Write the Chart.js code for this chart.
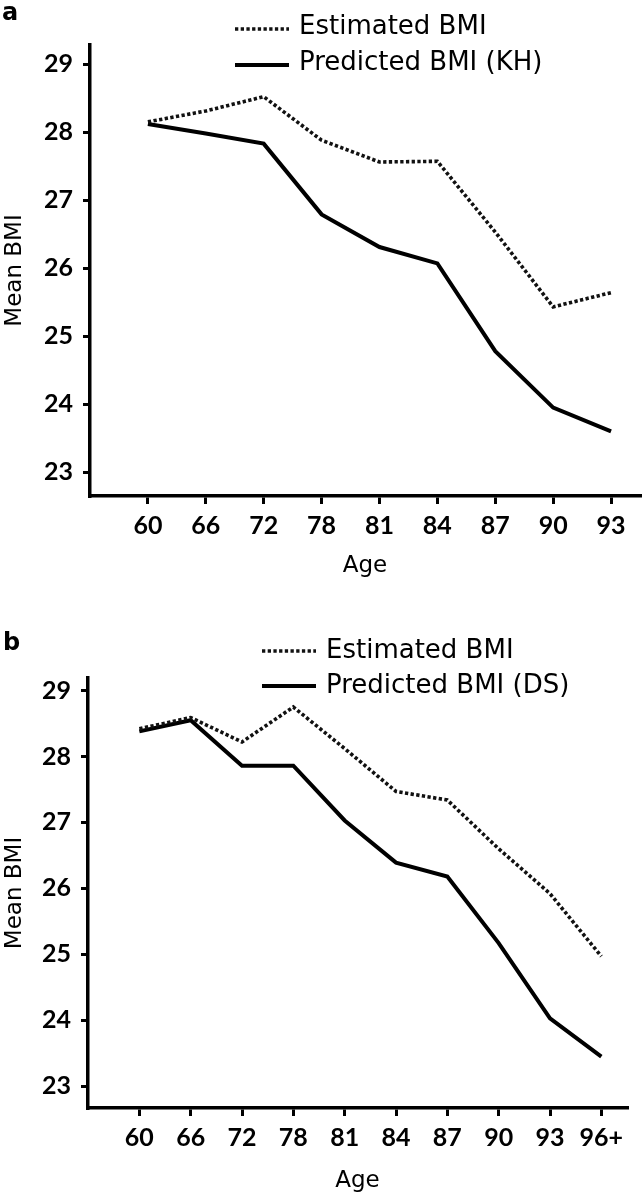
<!DOCTYPE html>
<html>
<head>
<meta charset="utf-8">
<script src="https://cdn.jsdelivr.net/npm/chart.js@4.4.1/dist/chart.umd.min.js"></script>
<style>
  body { margin: 0; background: #fff; }
  .panel { position: absolute; left: 0; width: 643px; height: 600px; }
</style>
</head>
<body>
<div class="panel" style="top:0"><canvas id="chartA" width="643" height="600"></canvas></div>
<div class="panel" style="top:600px"><canvas id="chartB" width="643" height="600"></canvas></div>
<script>
// panel a
const agesA = ['60', '66', '72', '78', '81', '84', '87', '90', '93'];
const estimatedA = [28.15, 28.31, 28.52, 27.88, 27.56, 27.57, 26.53, 25.43, 25.64];
const predictedA = [28.12, 27.98, 27.83, 26.79, 26.31, 26.07, 24.78, 23.95, 23.60];

// panel b
const agesB = ['60', '66', '72', '78', '81', '84', '87', '90', '93', '96+'];
const estimatedB = [28.42, 28.59, 28.22, 28.75, 28.12, 27.47, 27.34, 26.60, 25.92, 24.97];
const predictedB = [28.38, 28.55, 27.86, 27.86, 27.03, 26.39, 26.18, 25.17, 24.03, 23.45];

const bmiTicks = [23, 24, 25, 26, 27, 28, 29];

const FONT = "'DejaVu Sans', sans-serif";
const TICK_FONT = "Lato, 'DejaVu Sans', sans-serif";

// panel letter + stacked legend rows (line sample then label)
const panelDecor = {
  id: 'panelDecor',
  afterDraw(chart, args, opts) {
    const ctx = chart.ctx;
    ctx.save();
    ctx.fillStyle = '#000';
    ctx.font = 'bold 24px ' + FONT;
    ctx.textBaseline = 'alphabetic';
    ctx.fillText(opts.letter, opts.letterX, opts.letterY);

    ctx.font = '26px ' + FONT;
    ctx.textBaseline = 'middle';
    chart.data.datasets.forEach((ds, i) => {
      const y = opts.rows[i];
      ctx.beginPath();
      ctx.lineWidth = ds.borderWidth;
      ctx.strokeStyle = ds.borderColor;
      ctx.setLineDash(ds.borderDash || []);
      ctx.moveTo(opts.lineFrom, y);
      ctx.lineTo(opts.lineTo, y);
      ctx.stroke();
      ctx.fillText(ds.label, opts.textX, y + opts.textShift);
    });
    ctx.restore();
  }
};

function makeChart(id, ages, est, pred, predLabel, box, decor) {
  const idx = ages.map((a, i) => i);
  return new Chart(document.getElementById(id), {
    type: 'line',
    data: {
      datasets: [
        {
          label: 'Estimated BMI',
          data: est.map((v, i) => ({ x: i, y: v })),
          borderColor: '#111',
          borderWidth: 3.6,
          borderDash: [3.3, 2.4]
        },
        {
          label: predLabel,
          data: pred.map((v, i) => ({ x: i, y: v })),
          borderColor: '#000',
          borderWidth: 4
        }
      ]
    },
    options: {
      responsive: false,
      animation: false,
      devicePixelRatio: 1,
      elements: {
        point: { radius: 0 },
        line: { tension: 0, fill: false }
      },
      layout: { padding: { top: box.top, right: 643 - box.right, left: 0, bottom: 0 } },
      plugins: {
        legend: { display: false },
        tooltip: { enabled: false },
        panelDecor: decor
      },
      scales: {
        x: {
          type: 'linear',
          min: -1,
          max: box.xMax,
          afterBuildTicks: s => { s.ticks = idx.map(v => ({ value: v })); },
          afterFit: s => { s.height = 600 - box.bottom; },
          ticks: {
            callback: v => ages[v],
            font: { family: TICK_FONT, size: 25, weight: 'bold' },
            color: '#000',
            padding: 7,
            autoSkip: false,
            maxRotation: 0
          },
          grid: { drawOnChartArea: false, tickLength: 8, color: '#000', lineWidth: 3 },
          border: { color: '#000', width: 3.5 },
          title: {
            display: true,
            text: 'Age',
            color: '#000',
            font: { family: FONT, size: 23 },
            padding: { top: 0, bottom: box.ageGap }
          }
        },
        y: {
          min: box.yMin,
          max: box.yMax,
          afterBuildTicks: s => { s.ticks = bmiTicks.map(v => ({ value: v })); },
          afterFit: s => { s.width = box.left; },
          ticks: {
            font: { family: TICK_FONT, size: 25, weight: 'bold' },
            color: '#000',
            padding: 10
          },
          grid: { drawOnChartArea: false, tickLength: 7, color: '#000', lineWidth: 3 },
          border: { color: '#000', width: 3.5 },
          title: {
            display: true,
            text: 'Mean BMI',
            color: '#000',
            font: { family: FONT, size: 23 },
            padding: { top: 1, bottom: 0 }
          }
        }
      }
    },
    plugins: [panelDecor]
  });
}

makeChart('chartA', agesA, estimatedA, predictedA, 'Predicted BMI (KH)',
  { left: 90, right: 640, top: 45, bottom: 496, xMax: 8.5, yMin: 22.65, yMax: 29.28, ageGap: 20 },
  { letter: 'a', letterX: 2, letterY: 20, rows: [29, 65], lineFrom: 235, lineTo: 289, textX: 299, textShift: -2 });

makeChart('chartB', agesB, estimatedB, predictedB, 'Predicted BMI (DS)',
  { left: 88, right: 627, top: 78, bottom: 508, xMax: 9.5, yMin: 22.67, yMax: 29.19, ageGap: 5 },
  { letter: 'b', letterX: 3, letterY: 50, rows: [51, 86], lineFrom: 262, lineTo: 316, textX: 326, textShift: 0 });
</script>
</body>
</html>
